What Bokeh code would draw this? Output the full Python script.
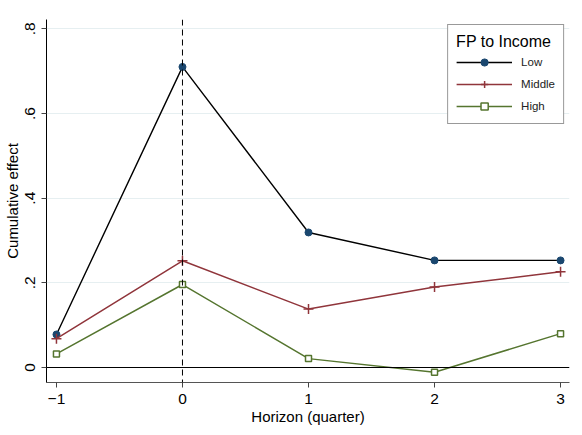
from bokeh.plotting import figure
from bokeh.models import Span, Legend, LegendItem, FixedTicker, CustomJSTickFormatter, Range1d
from bokeh.embed import file_html
from bokeh.resources import INLINE

# Horizon (quarters) and cumulative effect by FP-to-income group
horizon = [-1, 0, 1, 2, 3]
low = [0.078, 0.710, 0.319, 0.253, 0.253]
middle = [0.068, 0.252, 0.138, 0.190, 0.226]
high = [0.032, 0.196, 0.021, -0.011, 0.080]

y_ticks = [0, 0.2, 0.4, 0.6, 0.8]
x_ticks = [-1, 0, 1, 2, 3]

FONT = "Liberation Sans"
NAVY = "#1a476f"
MAROON = "#90353b"
GREEN = "#55752f"

p = figure(width=582, height=435, output_backend="svg", toolbar_location=None,
           x_range=Range1d(-1.079, 3.071), y_range=Range1d(-0.0354, 0.822),
           min_border_left=45, min_border_right=13, min_border_top=19, min_border_bottom=53)
p.outline_line_color = None
p.background_fill_color = "white"
p.border_fill_color = "white"

# Reference lines: zero effect and the shock quarter
p.add_layout(Span(location=0, dimension="width", line_color="black", line_width=1))
p.add_layout(Span(location=0, dimension="height", line_color="black", line_width=1,
                  line_dash="6 4"))

l_line = p.line(horizon, low, line_color="black", line_width=1.4)
l_pts = p.scatter(horizon, low, marker="circle", size=7, fill_color=NAVY, line_color=NAVY)
m_line = p.line(horizon, middle, line_color=MAROON, line_width=1.5)
m_pts = p.scatter(horizon, middle, marker="cross", size=10, line_color=MAROON, line_width=1.5)
h_line = p.line(horizon, high, line_color=GREEN, line_width=1.5)
h_pts = p.scatter(horizon, high, marker="square", size=6, fill_color="white",
                  line_color=GREEN, line_width=1.5)

# Axes
p.xgrid.grid_line_color = None
p.ygrid.grid_line_color = "#e6eff1"
p.ygrid.grid_line_width = 1
p.xaxis.ticker = FixedTicker(ticks=x_ticks)
p.yaxis.ticker = FixedTicker(ticks=y_ticks)
p.yaxis.formatter = CustomJSTickFormatter(
    code="return tick == 0 ? '0' : tick.toFixed(1).replace(/^0/, '');")
for ax in (p.xaxis[0], p.yaxis[0]):
    ax.axis_line_color = "black"
    ax.major_tick_line_color = "#444444"
    ax.minor_tick_line_color = None
    ax.major_tick_out = 5
    ax.major_tick_in = 0
    ax.major_label_text_font = FONT
    ax.major_label_text_font_size = "15.5px"
    ax.major_label_text_color = "black"
    ax.axis_label_text_font = FONT
    ax.axis_label_text_font_size = "15px"
    ax.axis_label_text_font_style = "normal"
    ax.axis_label_text_color = "black"
p.xaxis.axis_line_color = "#555555"
p.xaxis.axis_label = "Horizon (quarter)"
p.xaxis.major_label_standoff = 6
p.xaxis.axis_label_standoff = 1
p.yaxis.axis_label = "Cumulative effect"
p.yaxis.major_label_orientation = "parallel"
p.yaxis.major_label_standoff = 6
p.yaxis.axis_label_standoff = 2

legend = Legend(items=[
    LegendItem(label="Low", renderers=[l_line, l_pts]),
    LegendItem(label="Middle", renderers=[m_line, m_pts]),
    LegendItem(label="High", renderers=[h_line, h_pts]),
], location="top_right", margin=5)
legend.title = "FP to Income"
legend.title_text_font = FONT
legend.title_text_font_size = "16px"
legend.title_text_font_style = "normal"
legend.title_text_color = "black"
legend.title_standoff = 2
legend.label_text_font = FONT
legend.label_text_font_size = "11.5px"
legend.label_text_color = "#222222"
legend.glyph_width = 56
legend.glyph_height = 18
legend.spacing = 4
legend.label_standoff = 9
legend.padding = 8
legend.border_line_color = "#333333"
legend.border_line_width = 1
legend.background_fill_color = "white"
p.add_layout(legend)

open("out.html", "w").write(file_html(p, INLINE))
